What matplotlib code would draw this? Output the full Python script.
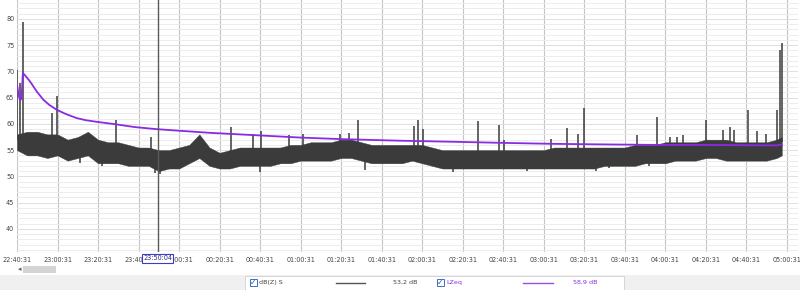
import matplotlib.pyplot as plt
import matplotlib.patches as mpatches
import numpy as np

# minutes after 22:40:31
band_t = [0, 5, 10, 15, 20, 25, 30, 35, 40, 45, 50, 55, 60, 65, 70, 75, 80, 85, 90, 95,
          100, 105, 110, 115, 120, 125, 130, 135, 140, 145, 150, 155, 160, 165, 170, 175,
          180, 185, 190, 195, 200, 205, 210, 215, 220, 225, 230, 235, 240, 245, 250, 255,
          260, 265, 270, 275, 280, 285, 290, 295, 300, 305, 310, 315, 320, 325, 330, 335,
          340, 345, 350, 355, 360, 365, 370, 375, 377.5]
band_lo = [55, 54, 54, 53.5, 54, 53, 53.5, 54, 52.5, 52.5, 52.5, 52, 52, 52, 51, 51.5, 51.5, 52.5, 53.5, 52,
           51.5, 51.5, 52, 52, 52, 52, 52.5, 52.5, 53, 53, 53, 53, 53.5, 53.5, 53, 52.5,
           52.5, 52.5, 52.5, 53, 52.5, 52, 51.5, 51.5, 51.5, 51.5, 51.5, 51.5, 51.5, 51.5, 51.5, 51.5,
           51.5, 51.5, 51.5, 51.5, 51.5, 51.5, 52, 52, 52, 52, 52.5, 52.5, 52.5, 53, 53, 53,
           53.5, 53.5, 53, 53, 53, 53, 53, 53.5, 54]
band_hi = [58, 58.5, 58.5, 58, 58, 57, 57.5, 58.5, 57, 56.5, 56.5, 56, 55.5, 55.5, 55, 55, 55.5, 56, 58, 55.5,
           54.5, 55, 55.5, 55.5, 55.5, 55.5, 55.5, 56, 56, 56.5, 56.5, 56.5, 57, 57, 56.5, 56,
           56, 56, 56, 56, 56, 55.5, 55, 55, 55, 55, 55, 55, 55, 55, 55, 55,
           55, 55.5, 55.5, 55.5, 55.5, 55.5, 55.5, 55.5, 55.5, 56, 56, 56, 56.5, 56.5, 56.5, 56.5,
           57, 57, 57, 56.5, 56.5, 56.5, 56.5, 57, 57.5]

spike_t = [0.0, 1.5, 2.8, 17.1, 19.6, 48.9, 66.0, 105.6, 116.3, 120.4, 134.3, 141.0, 159.4,
           163.9, 168.3, 196.0, 197.9, 200.4, 227.5, 237.9, 240.4, 263.6, 271.5, 276.9, 279.9,
           305.9, 315.7, 322.3, 325.6, 328.6, 340.1, 348.3, 351.9, 353.9, 361.0, 365.4, 369.7,
           375.0, 376.6, 377.4]
spike_peak = [70.3, 67.8, 79.5, 62.1, 65.4, 60.8, 57.6, 59.5, 58.0, 58.7, 57.8, 58.0, 58.0,
              58.3, 60.7, 59.6, 60.8, 59.0, 60.5, 59.8, 57.0, 57.2, 59.3, 58.0, 63.0,
              57.8, 61.3, 57.6, 57.6, 57.8, 60.7, 58.8, 59.4, 58.8, 62.7, 58.7, 58.1,
              62.7, 74.1, 75.4]

dip_t = [31.0, 41.8, 68.0, 70.5, 120.0, 171.8, 215.0, 251.7, 286.0, 292.0, 312.0]
dip_low = [52.6, 52.0, 50.6, 50.5, 50.8, 51.3, 50.9, 51.0, 51.0, 51.6, 51.9]

leq_t = [0.0, 0.8, 1.5, 2.2, 2.9, 4.5, 6.4, 9.7, 13, 16, 19.6, 24, 29.5, 34, 39.3, 49.2, 58,
         68.9, 80, 95.3, 115, 139.7, 160, 189, 215, 238, 265, 288, 315, 338, 375, 377.5]
leq_v = [67.5, 65.5, 64.5, 64.8, 69.7, 69.0, 68.1, 66.2, 64.6, 63.6, 62.7, 61.9, 61.1, 60.7, 60.4,
         59.9, 59.4, 59.0, 58.7, 58.3, 57.9, 57.4, 57.1, 56.8, 56.6, 56.4, 56.2, 56.1, 56.0,
         56.0, 55.9, 56.1]

tick_t = list(range(0, 381, 20))
tick_labels = ['22:40:31', '23:00:31', '23:20:31', '23:40:31', '00:00:31', '00:20:31',
               '00:40:31', '01:00:31', '01:20:31', '01:40:31', '02:00:31', '02:20:31',
               '02:40:31', '03:00:31', '03:20:31', '03:40:31', '04:00:31', '04:20:31',
               '04:40:31', '05:00:31']
cursor_t = 69.55
cursor_label = '23:50:04'

W, H = 800, 290
fs = 4.6
fig = plt.figure(figsize=(8, 2.9), dpi=100)
fig.patch.set_facecolor('white')

def fx(px):
    return px / W

def fy(py):
    return 1 - py / H

# bottom grey strip
fig.add_artist(mpatches.Rectangle((0, 0), 1, fy(275), transform=fig.transFigure,
                                  facecolor='#f0f0f0', edgecolor='none'))

ax = fig.add_axes([fx(17), fy(252), fx(798 - 17), 252 / H])
ax.set_xlim(0, (798 - 17) / 2.026)
ax.set_ylim(35.6, 83.6)
for s in ax.spines.values():
    s.set_visible(False)

ax.set_yticks(range(36, 84), minor=True)
ax.set_yticks(range(40, 81, 5))
ax.set_xticks(tick_t)
ax.set_xticklabels(tick_labels)
ax.tick_params(axis='both', which='both', length=0, labelsize=fs + 0.1, labelcolor='#444444')
ax.tick_params(axis='y', pad=2, which='both')
ax.tick_params(axis='x', pad=3.5)
ax.grid(axis='y', which='minor', color='#ececec', lw=0.7)
ax.grid(axis='y', which='major', color='#dedede', lw=0.7)
ax.grid(axis='x', which='major', color='#c4c4c4', lw=0.8)
ax.set_axisbelow(True)

trace_col = '#3b3b3b'
ax.fill_between(band_t, band_lo, band_hi, color=trace_col, lw=0.3, edgecolor=trace_col, zorder=2)
base = np.interp(spike_t, band_t, band_hi)
ax.vlines(spike_t, base - 1, spike_peak, color=trace_col, lw=1.1, zorder=2)
dbase = np.interp(dip_t, band_t, band_lo)
ax.vlines(dip_t, dip_low, dbase + 1, color=trace_col, lw=1.1, zorder=2)

ax.plot(leq_t, leq_v, color='#8a2be2', lw=1.3, zorder=3)
ax.axvline(cursor_t, color='#5a5a5a', lw=1.0, zorder=4)

# cursor time box
fig.text(fx(157.5), fy(258.5), cursor_label, ha='center', va='center', fontsize=fs + 0.1,
         color='#2a2a7a', zorder=10,
         bbox=dict(boxstyle='square,pad=0.2', facecolor='white', edgecolor='#3c3cc8', lw=0.8))

# scrollbar
fig.text(fx(20), fy(269), '◂', ha='center', va='center', fontsize=5, color='#606060')
fig.add_artist(mpatches.Rectangle((fx(23), fy(273)), fx(33), 7 / H, transform=fig.transFigure,
                                  facecolor='#d4d4d4', edgecolor='none'))

# legend bar
fig.add_artist(mpatches.Rectangle((fx(245), 0), fx(624 - 245), fy(276), transform=fig.transFigure,
                                  facecolor='white', edgecolor='#d0d0d0', lw=0.6))
for cx in [250, 437]:
    fig.add_artist(mpatches.Rectangle((fx(cx), fy(286)), fx(7), 7 / H, transform=fig.transFigure,
                                      facecolor='white', edgecolor='#3a6fc4', lw=0.7))
    fig.text(fx(cx + 3.5), fy(282.5), '✓', ha='center', va='center', fontsize=5.5,
             color='#2a5cb0', family='DejaVu Sans')
fig.text(fx(259), fy(282.5), 'dB(Z) S', ha='left', va='center', fontsize=fs, color='#444444')
fig.add_artist(plt.Line2D([fx(336), fx(365)], [fy(282.5), fy(282.5)], transform=fig.transFigure,
                          color='#555555', lw=1.0))
fig.text(fx(393), fy(282.5), '53,2 dB', ha='left', va='center', fontsize=fs, color='#444444')
fig.text(fx(446), fy(282.5), 'LZeq', ha='left', va='center', fontsize=fs, color='#8a2be2')
fig.add_artist(plt.Line2D([fx(523), fx(553)], [fy(282.5), fy(282.5)], transform=fig.transFigure,
                          color='#9b4fd9', lw=1.0))
fig.text(fx(573), fy(282.5), '58,9 dB', ha='left', va='center', fontsize=fs, color='#8a2be2')

fig.savefig('out.png', dpi=100)
